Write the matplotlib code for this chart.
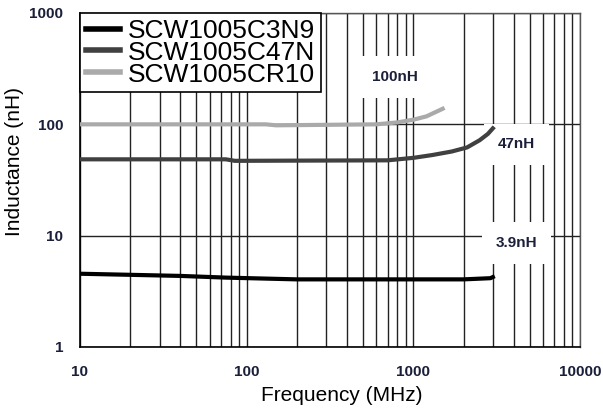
import matplotlib.pyplot as plt
from matplotlib.ticker import LogLocator, NullFormatter, FixedLocator, FixedFormatter

# curvas (MHz, nH)
freq_3n9 = [10, 20, 40, 75, 200, 2000, 2900, 3000]
ind_3n9 = [4.55, 4.45, 4.35, 4.2, 4.05, 4.05, 4.15, 4.25]

freq_47n = [10, 75, 85, 700, 1000, 1300, 1700, 2100, 2500, 2800, 3000]
ind_47n = [48.5, 48.5, 47, 47.5, 50, 53, 57, 62, 72, 82, 92]

freq_r10 = [10, 130, 150, 600, 800, 1000, 1200, 1500]
ind_r10 = [100, 100, 98, 100, 104, 110, 118, 138]

nomes = ['SCW1005C3N9', 'SCW1005C47N', 'SCW1005CR10']
cores = ['#000000', '#404040', '#aaaaaa']

xticks = [10, 100, 1000, 10000]
yticks = [1, 10, 100, 1000]
xtick_labels = ['10', '100', '1000', '10000']
ytick_labels = ['1', '10', '100', '1000']

rotulos = ['100nH', '47nH', '3.9nH']
rot_x = [780, 4170, 4170]
rot_y = [265, 66, 8.6]

cor_txt = '#1a1f3a'

fig = plt.figure(figsize=(6.03, 4.16), dpi=100)
ax = fig.add_axes([80 / 603, 69 / 416, 500 / 603, 334 / 416])

ax.plot(freq_3n9, ind_3n9, color=cores[0], lw=3, label=nomes[0], zorder=4)
ax.plot(freq_47n, ind_47n, color=cores[1], lw=3, label=nomes[1], zorder=4)
ax.plot(freq_r10, ind_r10, color=cores[2], lw=3, label=nomes[2], zorder=4)

ax.set_xscale('log')
ax.set_yscale('log')
ax.set_xlim(10, 10000)
ax.set_ylim(1, 1000)

ax.xaxis.set_major_locator(FixedLocator(xticks))
ax.xaxis.set_major_formatter(FixedFormatter(xtick_labels))
ax.xaxis.set_minor_locator(LogLocator(base=10, subs=range(2, 10)))
ax.xaxis.set_minor_formatter(NullFormatter())
ax.yaxis.set_major_locator(FixedLocator(yticks))
ax.yaxis.set_major_formatter(FixedFormatter(ytick_labels))
ax.yaxis.set_minor_locator(FixedLocator([]))

ax.grid(True, which='both', axis='x', color='#222222', lw=1)
ax.grid(True, which='major', axis='y', color='#222222', lw=1)
ax.set_axisbelow(True)

ax.tick_params(which='both', length=0)
ax.tick_params(axis='x', pad=13)
ax.tick_params(axis='y', pad=12)
for lb in ax.get_xticklabels() + ax.get_yticklabels():
    lb.set_fontfamily('Liberation Sans')
    lb.set_fontweight('bold')
    lb.set_fontsize(11)
    lb.set_color(cor_txt)

for s in ['left', 'bottom']:
    ax.spines[s].set_color('black')
    ax.spines[s].set_linewidth(1.2)
for s in ['top', 'right']:
    ax.spines[s].set_color('#555555')
    ax.spines[s].set_linewidth(1)

ax.set_xlabel('Frequency (MHz)', fontfamily='Liberation Sans', fontsize=15)
ax.set_ylabel('Inductance (nH)', fontfamily='Liberation Sans', fontsize=15)
ax.xaxis.set_label_coords(0.524, -0.118)
ax.yaxis.set_label_coords(-0.112, 0.554)

for t, x, y in zip(rotulos, rot_x, rot_y):
    ax.text(x, y, t, ha='center', va='center', fontfamily='Liberation Sans',
            fontweight='bold', fontsize=11, color=cor_txt, zorder=3,
            bbox=dict(boxstyle='square,pad=0.9', facecolor='white', edgecolor='none'))

leg = ax.legend(loc='upper left', bbox_to_anchor=(0, 1), borderaxespad=0,
                prop={'family': 'Liberation Sans', 'size': 19},
                labelspacing=-0.08, borderpad=0.22, handlelength=1.3,
                handletextpad=0.3, fancybox=False, framealpha=1)
leg.get_frame().set_edgecolor('black')
leg.get_frame().set_linewidth(1.2)
for h in leg.get_lines():
    h.set_linewidth(4)
leg.set_zorder(5)

plt.savefig('out.png', dpi=100)
